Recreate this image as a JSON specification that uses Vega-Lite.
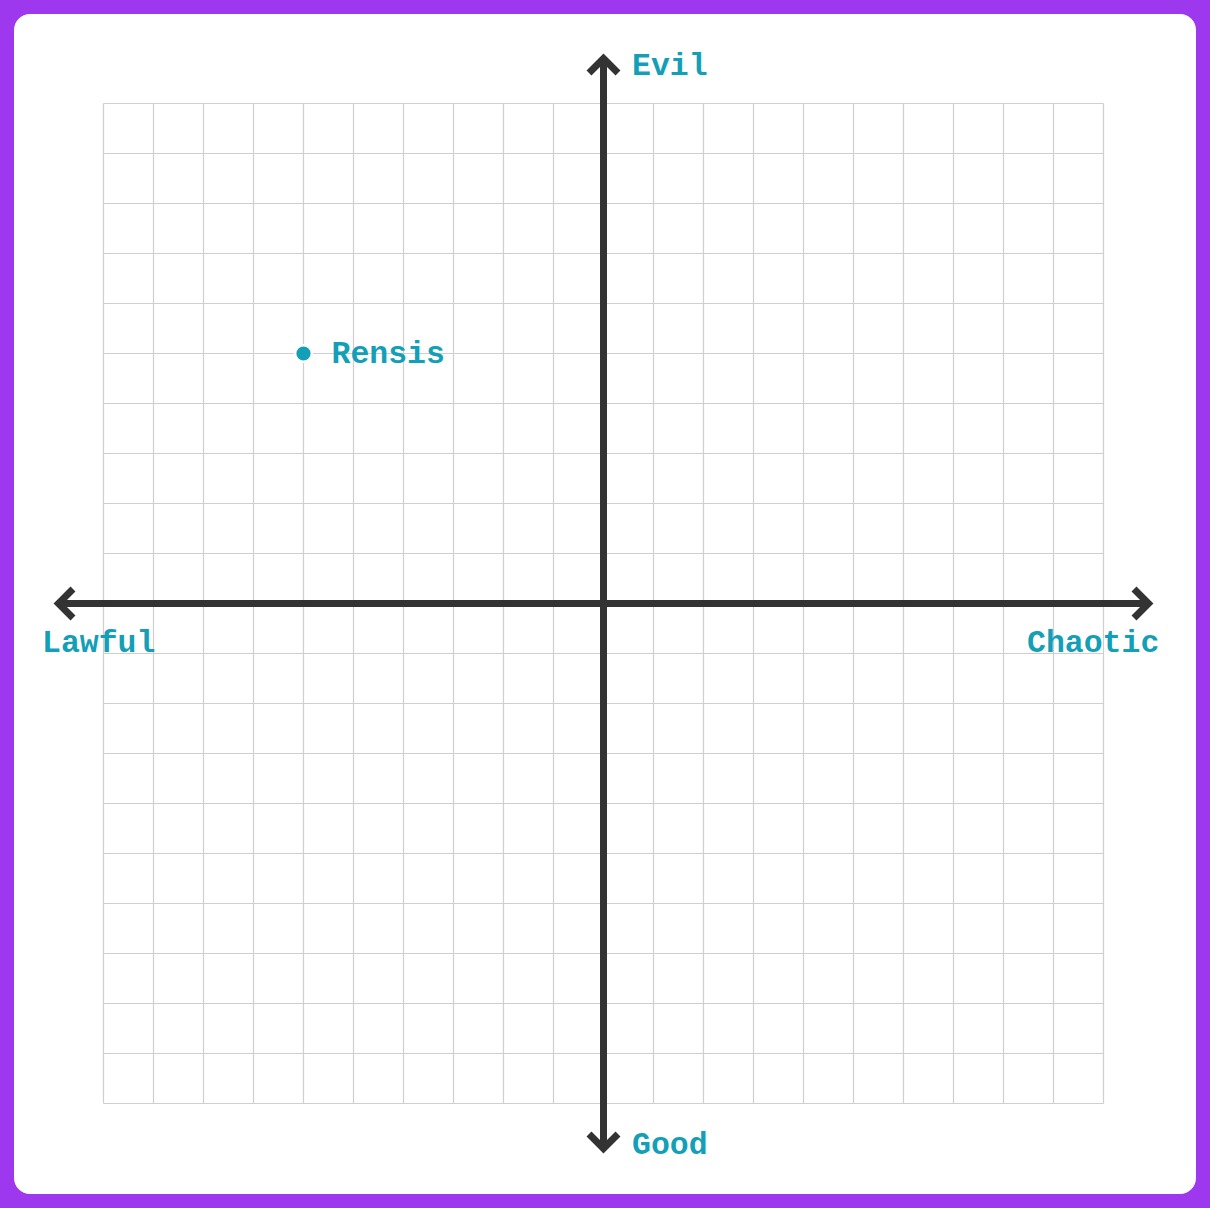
{
  "$schema": "https://vega.github.io/schema/vega-lite/v6.json",
  "width": 1210,
  "height": 1208,
  "autosize": {"type": "fit", "contains": "padding"},
  "padding": {"left": 14, "right": 14, "top": 14, "bottom": 14},
  "background": "#9e38ee",
  "config": {
    "view": {"fill": "white", "stroke": null, "cornerRadius": 16},
    "text": {"font": "Liberation Mono", "fontWeight": "bold", "fontSize": 31.5}
  },
  "datasets": {
    "grid": [
      {"g": -10}, {"g": -9}, {"g": -8}, {"g": -7}, {"g": -6}, {"g": -5}, {"g": -4},
      {"g": -3}, {"g": -2}, {"g": -1}, {"g": 0}, {"g": 1}, {"g": 2}, {"g": 3},
      {"g": 4}, {"g": 5}, {"g": 6}, {"g": 7}, {"g": 8}, {"g": 9}, {"g": 10}
    ],
    "axes": [
      {"x": -10.9, "x2": 10.9, "y": 0, "y2": 0},
      {"x": 0, "x2": 0, "y": -10.9, "y2": 10.9}
    ],
    "arrows": [
      {"dir": "right", "x": 10.9, "y": 0},
      {"dir": "left", "x": -10.9, "y": 0},
      {"dir": "up", "x": 0, "y": 10.9},
      {"dir": "down", "x": 0, "y": -10.9}
    ],
    "labels": [
      {"label": "Evil", "x": 0.57, "y": 10.57},
      {"label": "Good", "x": 0.57, "y": -11.01},
      {"label": "Lawful", "x": -11.23, "y": -0.97},
      {"label": "Chaotic", "x": 8.47, "y": -0.97}
    ],
    "points": [
      {"name": "Rensis", "x": -6, "y": 5}
    ]
  },
  "layer": [
    {
      "data": {"name": "grid"},
      "mark": {"type": "rule", "color": "#cfcfcf", "strokeWidth": 1.2},
      "encoding": {
        "x": {"field": "g", "type": "quantitative", "scale": {"domain": [-11.79, 11.85], "nice": false, "zero": false}, "axis": null},
        "y": {"datum": -10, "type": "quantitative", "scale": {"domain": [-11.81, 11.79], "nice": false, "zero": false}, "axis": null},
        "y2": {"datum": 10}
      }
    },
    {
      "data": {"name": "grid"},
      "mark": {"type": "rule", "color": "#cfcfcf", "strokeWidth": 1.2},
      "encoding": {
        "y": {"field": "g", "type": "quantitative", "scale": {"domain": [-11.81, 11.79], "nice": false, "zero": false}, "axis": null},
        "x": {"datum": -10, "type": "quantitative", "scale": {"domain": [-11.79, 11.85], "nice": false, "zero": false}, "axis": null},
        "x2": {"datum": 10}
      }
    },
    {
      "data": {"name": "axes"},
      "mark": {"type": "rule", "color": "#333333", "strokeWidth": 7},
      "encoding": {
        "x": {"field": "x", "type": "quantitative", "scale": {"domain": [-11.79, 11.85], "nice": false, "zero": false}, "axis": null},
        "x2": {"field": "x2"},
        "y": {"field": "y", "type": "quantitative", "scale": {"domain": [-11.81, 11.79], "nice": false, "zero": false}, "axis": null},
        "y2": {"field": "y2"}
      }
    },
    {
      "data": {"name": "arrows"},
      "transform": [{"filter": "datum.dir === 'right'"}],
      "mark": {"type": "point", "shape": "M-1,-1L0,0L-1,1", "filled": false, "stroke": "#333333", "strokeWidth": 7, "strokeJoin": "miter", "strokeCap": "butt", "size": 841, "opacity": 1, "angle": 0},
      "encoding": {
        "x": {"field": "x", "type": "quantitative", "scale": {"domain": [-11.79, 11.85], "nice": false, "zero": false}, "axis": null},
        "y": {"field": "y", "type": "quantitative", "scale": {"domain": [-11.81, 11.79], "nice": false, "zero": false}, "axis": null}
      }
    },
    {
      "data": {"name": "arrows"},
      "transform": [{"filter": "datum.dir === 'down'"}],
      "mark": {"type": "point", "shape": "M-1,-1L0,0L-1,1", "filled": false, "stroke": "#333333", "strokeWidth": 7, "strokeJoin": "miter", "strokeCap": "butt", "size": 841, "opacity": 1, "angle": 90},
      "encoding": {
        "x": {"field": "x", "type": "quantitative", "scale": {"domain": [-11.79, 11.85], "nice": false, "zero": false}, "axis": null},
        "y": {"field": "y", "type": "quantitative", "scale": {"domain": [-11.81, 11.79], "nice": false, "zero": false}, "axis": null}
      }
    },
    {
      "data": {"name": "arrows"},
      "transform": [{"filter": "datum.dir === 'left'"}],
      "mark": {"type": "point", "shape": "M-1,-1L0,0L-1,1", "filled": false, "stroke": "#333333", "strokeWidth": 7, "strokeJoin": "miter", "strokeCap": "butt", "size": 841, "opacity": 1, "angle": 180},
      "encoding": {
        "x": {"field": "x", "type": "quantitative", "scale": {"domain": [-11.79, 11.85], "nice": false, "zero": false}, "axis": null},
        "y": {"field": "y", "type": "quantitative", "scale": {"domain": [-11.81, 11.79], "nice": false, "zero": false}, "axis": null}
      }
    },
    {
      "data": {"name": "arrows"},
      "transform": [{"filter": "datum.dir === 'up'"}],
      "mark": {"type": "point", "shape": "M-1,-1L0,0L-1,1", "filled": false, "stroke": "#333333", "strokeWidth": 7, "strokeJoin": "miter", "strokeCap": "butt", "size": 841, "opacity": 1, "angle": 270},
      "encoding": {
        "x": {"field": "x", "type": "quantitative", "scale": {"domain": [-11.79, 11.85], "nice": false, "zero": false}, "axis": null},
        "y": {"field": "y", "type": "quantitative", "scale": {"domain": [-11.81, 11.79], "nice": false, "zero": false}, "axis": null}
      }
    },
    {
      "data": {"name": "labels"},
      "mark": {"type": "text", "align": "left", "baseline": "alphabetic", "color": "#139fb8"},
      "encoding": {
        "x": {"field": "x", "type": "quantitative", "scale": {"domain": [-11.79, 11.85], "nice": false, "zero": false}, "axis": null},
        "y": {"field": "y", "type": "quantitative", "scale": {"domain": [-11.81, 11.79], "nice": false, "zero": false}, "axis": null},
        "text": {"field": "label"}
      }
    },
    {
      "data": {"name": "points"},
      "mark": {"type": "point", "shape": "circle", "filled": true, "fill": "#139fb8", "stroke": "white", "strokeWidth": 2.5, "size": 280, "opacity": 1},
      "encoding": {
        "x": {"field": "x", "type": "quantitative", "scale": {"domain": [-11.79, 11.85], "nice": false, "zero": false}, "axis": null},
        "y": {"field": "y", "type": "quantitative", "scale": {"domain": [-11.81, 11.79], "nice": false, "zero": false}, "axis": null}
      }
    },
    {
      "data": {"name": "points"},
      "mark": {"type": "text", "align": "left", "baseline": "middle", "dx": 28, "color": "#139fb8"},
      "encoding": {
        "x": {"field": "x", "type": "quantitative", "scale": {"domain": [-11.79, 11.85], "nice": false, "zero": false}, "axis": null},
        "y": {"field": "y", "type": "quantitative", "scale": {"domain": [-11.81, 11.79], "nice": false, "zero": false}, "axis": null},
        "text": {"field": "name"}
      }
    }
  ]
}
